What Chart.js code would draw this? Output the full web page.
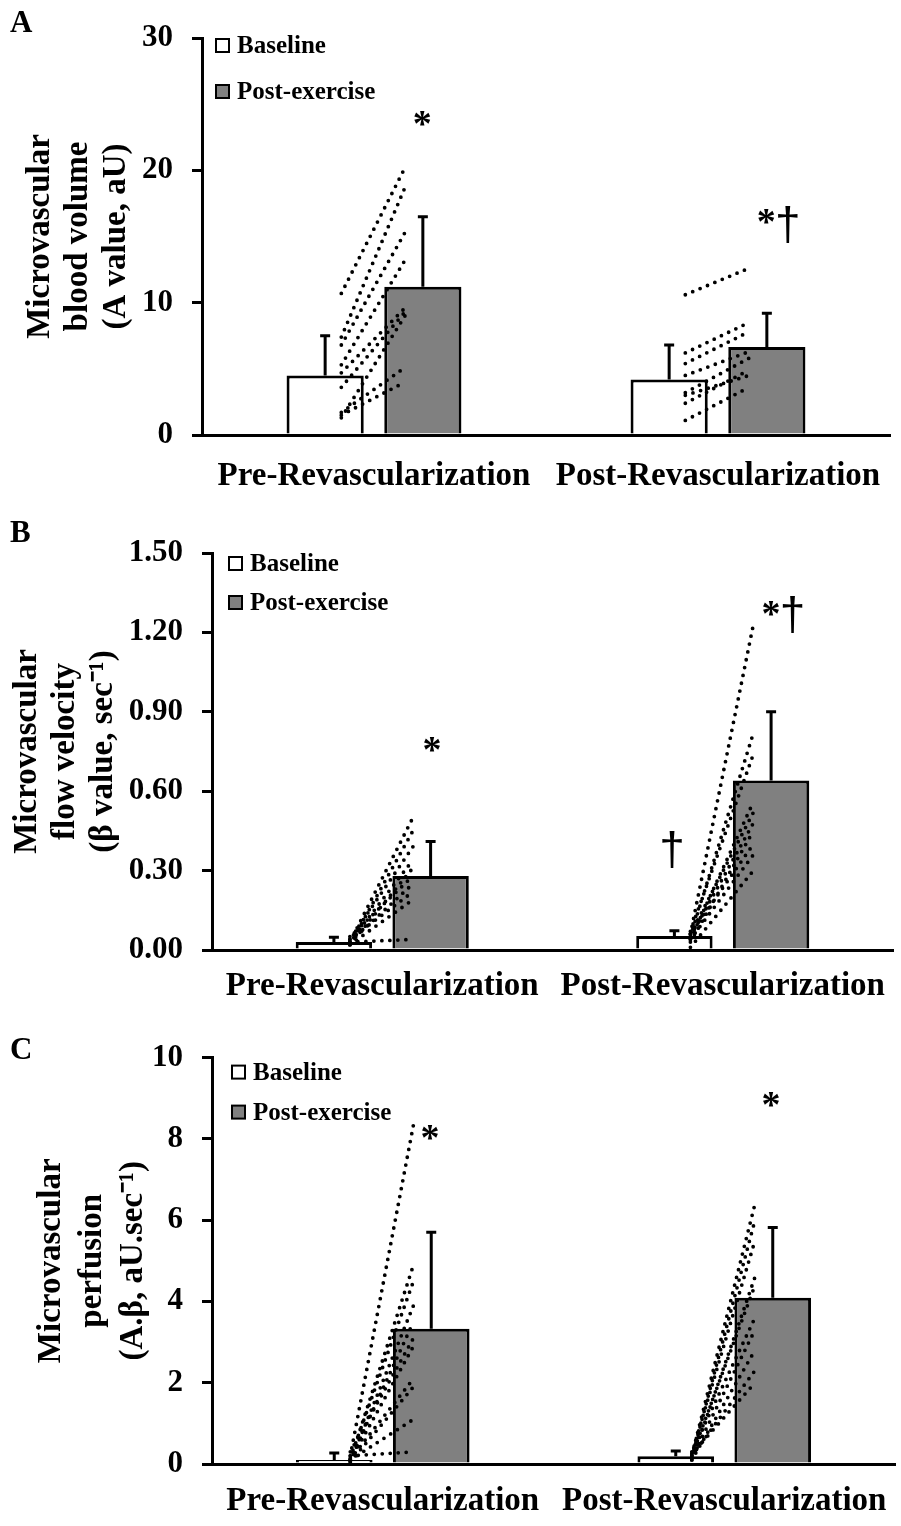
<!DOCTYPE html>
<html>
<head>
<meta charset="utf-8">
<script src="https://cdn.jsdelivr.net/npm/chart.js@4.4.1/dist/chart.umd.min.js"></script>
<style>
  body { margin: 0; background: #fff; }
  canvas { position: absolute; left: 0; }
</style>
</head>
<body>
<canvas id="chartA" width="901" height="505" style="top:0px"></canvas>
<canvas id="chartB" width="901" height="515" style="top:505px"></canvas>
<canvas id="chartC" width="901" height="506" style="top:1020px"></canvas>
<script>
const categories = ['Pre-Revascularization', 'Post-Revascularization'];

// group means and upper SD, per category
const volBaseline = [4.5, 4.2];
const volBaselineSD = [3.0, 2.6];
const volPost = [11.2, 6.65];
const volPostSD = [5.3, 2.55];

const velBaseline = [0.03, 0.053];
const velBaselineSD = [0.018, 0.02];
const velPost = [0.28, 0.64];
const velPostSD = [0.13, 0.26];

const perfBaseline = [0.1, 0.19];
const perfBaselineSD = [0.17, 0.13];
const perfPost = [3.33, 4.09];
const perfPostSD = [2.37, 1.73];

// individual subjects (baseline -> post-exercise)
const volPreRevBase = [10.7, 7.4, 6.8, 5.3, 4.7, 3.6, 1.7, 1.5, 1.3];
const volPreRevPost = [20.2, 18.7, 15.3, 13.2, 9.6, 9.3, 5.1, 4.0, 9.0];
const volPostRevBase = [10.6, 6.2, 5.4, 4.5, 3.2, 2.4, 1.1, 3.0];
const volPostRevPost = [12.6, 8.5, 7.8, 6.3, 5.8, 4.9, 3.6, 4.5];

const velPreRevBase = [0.03, 0.02, 0.04, 0.03, 0.02, 0.05, 0.03, 0.04, 0.02, 0.03];
const velPreRevPost = [0.50, 0.45, 0.39, 0.34, 0.31, 0.28, 0.25, 0.22, 0.19, 0.04];
const velPostRevBase = [0.06, 0.05, 0.07, 0.04, 0.06, 0.05, 0.03, 0.06, 0.04, 0.01];
const velPostRevPost = [1.23, 0.82, 0.74, 0.56, 0.52, 0.48, 0.45, 0.40, 0.36, 0.30];

const perfPreRevBase = [0.2, 0.1, 0.15, 0.05, 0.1, 0.3, 0.08, 0.12, 0.05, 0.1, 0.2];
const perfPreRevPost = [8.35, 4.9, 4.5, 3.9, 3.5, 3.1, 2.9, 2.1, 1.9, 1.1, 0.3];
const perfPostRevBase = [0.2, 0.15, 0.25, 0.1, 0.2, 0.3, 0.15, 0.1, 0.2, 0.25];
const perfPostRevPost = [6.4, 6.0, 5.5, 4.6, 4.4, 3.6, 3.3, 2.8, 2.3, 2.0];

const FONT = 'Liberation Serif';
// x axis runs 0..2, category i is centred at i + 0.5
const BAR_OFFSET = 0.142;
const LINE_FROM = -0.095, LINE_TO = 0.09;

function subjectLines(cat, base, post) {
  return base.map((b, k) => ({
    type: 'line', order: 0,
    data: [{x: cat + 0.5 + LINE_FROM, y: b}, {x: cat + 0.5 + LINE_TO, y: post[k]}],
    borderColor: '#000', borderWidth: 3.8, borderDash: [0, 8], borderCapStyle: 'round',
    pointRadius: 0, fill: false, tension: 0
  }));
}

function barPoints(vals, shift) {
  return vals.map((v, i) => ({x: i + 0.5 + shift, y: v}));
}

const decor = {
  id: 'decor',
  afterDatasetsDraw(chart, args, o) {
    const ctx = chart.ctx, ys = chart.scales.y, xs = chart.scales.x, ca = chart.chartArea;
    ctx.save();
    // error bars
    ctx.strokeStyle = '#000';
    ctx.lineWidth = 3;
    [0, 1].forEach(di => {
      const meta = chart.getDatasetMeta(di);
      meta.data.forEach((bar, j) => {
        const yt = ys.getPixelForValue(o.vals[di][j] + o.sd[di][j]);
        ctx.beginPath();
        ctx.moveTo(bar.x, bar.y);
        ctx.lineTo(bar.x, yt);
        ctx.moveTo(bar.x - 5, yt);
        ctx.lineTo(bar.x + 5, yt);
        ctx.stroke();
      });
    });
    // significance marks
    ctx.fillStyle = '#000';
    ctx.textAlign = 'center';
    ctx.textBaseline = 'alphabetic';
    o.marks.forEach(m => {
      ctx.font = m.t === '*' ? 'bold 38px ' + FONT : '46px Liberation Sans';
      ctx.fillText(m.t, xs.getPixelForValue(m.x), ys.getPixelForValue(m.y));
    });
    // legend
    const items = [['Baseline', '#ffffff'], ['Post-exercise', '#808080']];
    ctx.font = 'bold 25px ' + FONT;
    ctx.textAlign = 'left';
    ctx.textBaseline = 'middle';
    ctx.lineWidth = 2;
    items.forEach((it, i) => {
      const bx = ca.left + o.leg.dx, by = ca.top + o.leg.dy[i];
      ctx.fillStyle = it[1];
      ctx.fillRect(bx, by, 13, 13);
      ctx.strokeRect(bx, by, 13, 13);
      ctx.fillStyle = '#000';
      ctx.fillText(it[0], ca.left + o.leg.tx, by + 8);
    });
    // panel letter
    ctx.font = 'bold 31px ' + FONT;
    ctx.textBaseline = 'alphabetic';
    ctx.fillText(o.letter, 10, o.letterY);
    ctx.restore();
  }
};

function makePanel(id, p) {
  new Chart(document.getElementById(id), {
    type: 'bar',
    data: {
      datasets: [
        {label: 'Baseline', data: barPoints(p.base, -BAR_OFFSET), backgroundColor: '#ffffff', borderColor: '#000', borderWidth: 3, order: 1},
        {label: 'Post-exercise', data: barPoints(p.post, BAR_OFFSET), backgroundColor: '#808080', borderColor: '#000', borderWidth: 3, order: 1}
      ].concat(subjectLines(0, p.subj[0], p.subj[1]), subjectLines(1, p.subj[2], p.subj[3]))
    },
    options: {
      responsive: false,
      animation: false,
      events: [],
      datasets: {bar: {grouped: false, categoryPercentage: 1, barPercentage: 0.79}},
      layout: {padding: {top: p.padTop, right: p.padRight, left: 0, bottom: 0}},
      plugins: {
        legend: {display: false},
        tooltip: {enabled: false},
        decor: {vals: [p.base, p.post], sd: p.sd, marks: p.marks, leg: p.leg, letter: p.letter, letterY: p.letterY}
      },
      scales: {
        x: {
          type: 'linear', min: 0, max: 2, offset: false, bounds: 'data',
          afterBuildTicks: s => { s.ticks = categories.map((c, i) => ({value: i + 0.5})); },
          grid: {display: false, drawTicks: false, tickLength: 0, offset: false},
          border: {display: true, color: '#000', width: 3},
          ticks: {color: '#000', font: {family: FONT, size: 33, weight: 'bold'}, padding: p.xPad, maxRotation: 0, autoSkip: false,
                  callback: v => categories[Math.floor(v)]},
          afterFit: s => { s.height = p.xHeight; s.paddingLeft = 0; s.paddingRight = 0; }
        },
        y: {
          min: 0, max: p.max,
          ticks: {stepSize: p.step, color: '#000', font: {family: FONT, size: 31, weight: 'bold'}, padding: 19,
                  callback: v => p.fmt(v)},
          grid: {display: true, drawOnChartArea: false, drawTicks: true, tickLength: 10, color: '#000', lineWidth: 3},
          border: {display: true, color: '#000', width: 3},
          title: {display: true, text: p.title, color: '#000',
                  font: {family: FONT, size: 33, weight: 'bold', lineHeight: p.titleLH},
                  padding: {top: p.titlePad, bottom: 0}},
          afterFit: s => { s.width = p.yWidth; }
        }
      }
    },
    plugins: [decor]
  });
}

makePanel('chartA', {
  base: volBaseline, post: volPost, sd: [volBaselineSD, volPostSD],
  subj: [volPreRevBase, volPreRevPost, volPostRevBase, volPostRevPost],
  max: 30, step: 10, fmt: v => String(v),
  title: ['Microvascular', 'blood volume', '(A value, aU)'], titleLH: 38 / 33, titlePad: 21,
  yWidth: 202, xHeight: 70, xPad: 22, padTop: 38, padRight: 11,
  marks: [{x: 0.640, y: 22.6, t: '*'}, {x: 1.640, y: 15.2, t: '*'}, {x: 1.703, y: 14.7, t: '†'}],
  leg: {dx: 14, dy: [1, 47], tx: 35}, letter: 'A', letterY: 32
});

makePanel('chartB', {
  base: velBaseline, post: velPost, sd: [velBaselineSD, velPostSD],
  subj: [velPreRevBase, velPreRevPost, velPostRevBase, velPostRevPost],
  max: 1.5, step: 0.3, fmt: v => v.toFixed(2),
  title: ['Microvascular', 'flow velocity', '(β value, sec⁻¹)'], titleLH: 38 / 33, titlePad: 8,
  yWidth: 212, xHeight: 70, xPad: 17, padTop: 48, padRight: 8,
  marks: [{x: 0.646, y: 0.710, t: '*'}, {x: 1.642, y: 1.224, t: '*'}, {x: 1.705, y: 1.209, t: '†'}, {x: 1.351, y: 0.321, t: '†'}],
  leg: {dx: 17, dy: [4, 43], tx: 38}, letter: 'B', letterY: 37
});

makePanel('chartC', {
  base: perfBaseline, post: perfPost, sd: [perfBaselineSD, perfPostSD],
  subj: [perfPreRevBase, perfPreRevPost, perfPostRevBase, perfPostRevPost],
  max: 10, step: 2, fmt: v => String(v),
  title: ['Microvascular', 'perfusion', '(A.β, aU.sec⁻¹)'], titleLH: 41 / 33, titlePad: 31,
  yWidth: 212, xHeight: 62, xPad: 18, padTop: 35, padRight: 6,
  marks: [{x: 0.638, y: 7.72, t: '*'}, {x: 1.637, y: 8.55, t: '*'}],
  leg: {dx: 20, dy: [8, 48], tx: 41}, letter: 'C', letterY: 39
});
</script>
</body>
</html>
